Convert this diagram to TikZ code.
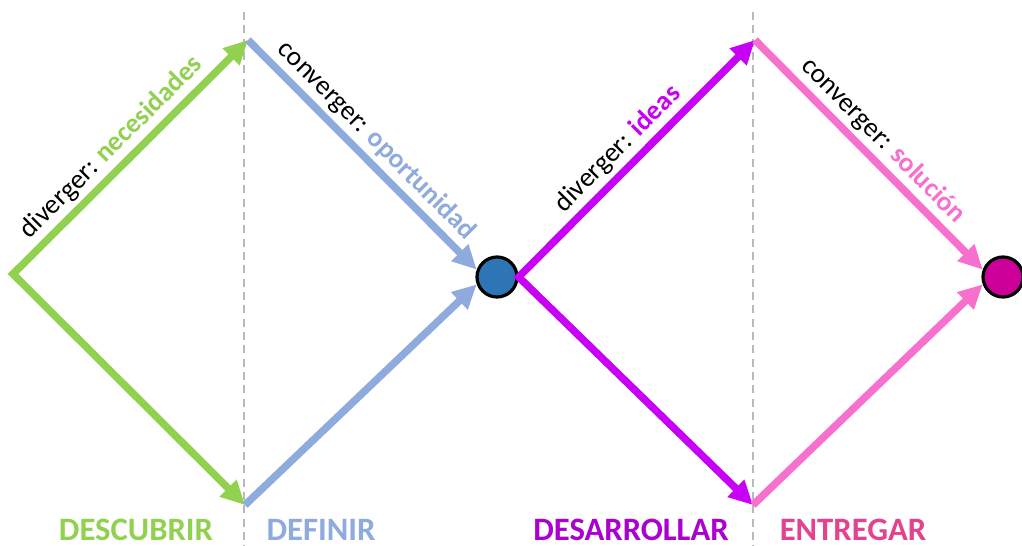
\documentclass[tikz,border=0pt]{standalone}
\usepackage{fontspec}
\setmainfont{Carlito}
\usetikzlibrary{arrows.meta}
\definecolor{verde}{HTML}{92D050}
\definecolor{azul}{HTML}{8FAADC}
\definecolor{azulfondo}{HTML}{2E75B6}
\definecolor{morado}{HTML}{C800F5}
\definecolor{rosa}{HTML}{F870CE}
\definecolor{rosaoscuro}{HTML}{E4428C}
\definecolor{magentafondo}{HTML}{CC0099}

\begin{document}
\begin{tikzpicture}[x=0.75pt,y=-0.75pt,
    linea/.style={line width=5.6pt,line join=miter},
    punta/.style={-{Triangle[length=18pt,width=17pt]}},
    puntas/.style={{Triangle[length=18pt,width=17pt]}-{Triangle[length=18pt,width=17pt]}},
    fase/.style={midway,sloped,above,text=black,font=\fontsize{20.5}{24}\selectfont},
    etiqueta/.style={anchor=base,inner sep=0pt,font=\fontsize{24.5}{28}\selectfont\bfseries},
    punto/.style={circle,draw=black,line width=2.4pt,minimum size=30pt,inner sep=0pt},
    separador/.style={gray!55,line width=0.9pt,dash pattern=on 6pt off 4pt}]
        \useasboundingbox (0,0) rectangle (1022,546);
        % vertices
        \coordinate (ini) at (13,274);
        \coordinate (top1) at (248,40);
        \coordinate (bot1) at (245,505);
        \coordinate (top2) at (755,40);
        \coordinate (bot2) at (753,505);
        %separators
        \draw[separador] (244,12) -- (244,546);
        \draw[separador] (753,12) -- (753,546);
        % circles
        \node[punto,fill=azulfondo] (c1) at (497,277) {};
        \node[punto,fill=magentafondo] (c2) at (1003,277) {};
        % first diamond
        \draw[linea,verde,puntas] (top1) -- node[fase,pos=0.52] {diverger: \textcolor{verde}{\bfseries necesidades}} (ini) -- (bot1);
        \draw[linea,azul,punta] (top1) -- node[fase,pos=0.5] {converger: \textcolor{azul}{\bfseries oportunidad}} (c1.160);
        \draw[linea,azul,punta] (bot1) -- (c1.200);
        % second diamond
        \draw[linea,morado,puntas] (top2) -- node[fase,pos=0.52] {diverger: \textcolor{morado}{\bfseries ideas}} (c1.east) -- (bot2);
        \draw[linea,rosa,punta] (top2) -- node[fase,pos=0.5] {converger: \textcolor{rosa}{\bfseries solución}} (c2.160);
        \draw[linea,rosa,punta] (bot2) -- (c2.200);
        % phase names
        \node[etiqueta,text=verde] (descubrir) at (136,540) {DESCUBRIR};
        \node[etiqueta,text=azul] (definir) at (321,540) {DEFINIR};
        \node[etiqueta,text=morado!85!black] (desarrollar) at (631,540) {DESARROLLAR};
        \node[etiqueta,text=rosaoscuro] (entregar) at (853,540) {ENTREGAR};
      \end{tikzpicture}
\end{document}
